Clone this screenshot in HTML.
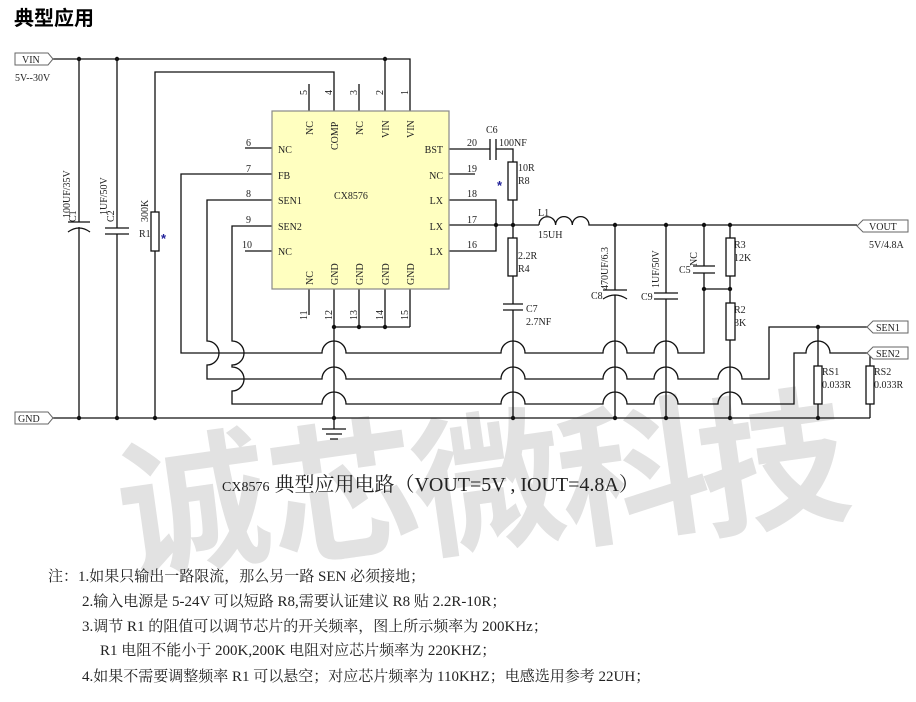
<!DOCTYPE html>
<html><head><meta charset="utf-8"><style>
html,body{margin:0;padding:0;background:#fff;}
svg{display:block;}
.t{font-family:"Liberation Serif","Noto Serif CJK SC",serif;fill:#222;}
</style></head><body>
<svg width="916" height="702" viewBox="0 0 916 702" xmlns="http://www.w3.org/2000/svg">
<!-- watermark -->
<g font-family="Liberation Sans,'Noto Sans CJK SC',sans-serif" font-weight="bold" font-size="150" fill="#e2e2e2">
<text x="115" y="560" transform="rotate(-8 190 480)">诚</text>
<text x="265" y="548" transform="rotate(-8 340 470)">芯</text>
<text x="410" y="538" transform="rotate(-8 485 460)">微</text>
<text x="555" y="528" transform="rotate(-8 630 450)">科</text>
<text x="695" y="518" transform="rotate(-8 770 440)">技</text>
</g>
<text x="14" y="25" font-family="'Noto Sans CJK SC',sans-serif" font-weight="bold" font-size="20" fill="#000">典型应用</text>

<g stroke="#111" stroke-width="1.3" fill="none">
<path d="M52 59 H410 V111"/>
<path d="M385 59 V111"/>
<path d="M155 212 V72 H334 V111"/>
<path d="M309 84 V111 M359 84 V111"/>
<path d="M52 418 H870"/>
<path d="M79 59 V222 M68 222 H90 M68 232 Q79 224 90 232 M79 227 V418"/>
<path d="M117 59 V228 M105 228 H129 M105 234 H129 M117 234 V418"/>
<path d="M155 251 V418"/>
<path d="M245 148 H272 M245 251 H272"/>
<path d="M309 289 V315 M334 289 V418 M359 289 V327 M385 289 V327 M410 289 V327 M334 327 H410"/>
<path d="M334 418 V429 M322 429 H346 M326 434 H342 M330 439 H338"/>
<path d="M272 174 H181 V353 H322 A12 12 0 0 1 346 353 H501 A12 12 0 0 1 525 353 H603 A12 12 0 0 1 627 353 H654 A12 12 0 0 1 678 353 H704 V289"/>
<path d="M272 200 H207 V341 A12 12 0 0 1 207 365 V379 H322 A12 12 0 0 1 346 379 H501 A12 12 0 0 1 525 379 H603 A12 12 0 0 1 627 379 H654 A12 12 0 0 1 678 379 H718 A12 12 0 0 1 742 379 H769 V327 H868"/>
<path d="M272 226 H232 V341 A12 12 0 0 1 232 365 V367 A12 12 0 0 1 232 391 V404 H322 A12 12 0 0 1 346 404 H501 A12 12 0 0 1 525 404 H603 A12 12 0 0 1 627 404 H654 A12 12 0 0 1 678 404 H718 A12 12 0 0 1 742 404 H794 V353 H806 A12 12 0 0 1 830 353 H868"/>
<path d="M449 149 H490 M490 139 V160 M496 139 V160 M496 149 H513 V162"/>
<path d="M449 174 H475"/>
<path d="M449 200 H496 V251 H449 M449 225 H539"/>
<path d="M513 200 V238 M513 276 V304 M503 304 H523 M503 310 H523 M513 310 V418"/>
<path d="M539 225 A8.3 8.3 0 0 1 555.6 225 A8.3 8.3 0 0 1 572.3 225 A8.3 8.3 0 0 1 589 225 H857"/>
<path d="M615 225 V290 M603 290 H627 M603 299 Q615 291 627 299 M615 295 V418"/>
<path d="M666 225 V293 M654 293 H678 M654 299 H678 M666 299 V418"/>
<path d="M704 225 V266 M693 266 H715 M693 273 H715 M704 273 V289 H730"/>
<path d="M730 225 V238 M730 276 V303 M730 340 V418"/>
<path d="M818 327 V366 M818 404 V418 M870 353 V366 M870 404 V418"/>
</g>
<g stroke="#111" stroke-width="1.3" fill="#fff">
<rect x="151" y="212" width="8" height="39"/>
<rect x="508" y="162" width="9" height="38"/>
<rect x="508" y="238" width="9" height="38"/>
<rect x="726" y="238" width="9" height="38"/>
<rect x="726" y="303" width="9" height="37"/>
<rect x="814" y="366" width="8" height="38"/>
<rect x="866" y="366" width="8" height="38"/>
</g>
<rect x="272" y="111" width="177" height="178" fill="#ffffc0" stroke="#888" stroke-width="1.2"/>
<g fill="#111">
<circle cx="79" cy="59" r="2.2"/><circle cx="117" cy="59" r="2.2"/><circle cx="385" cy="59" r="2.2"/>
<circle cx="79" cy="418" r="2.2"/><circle cx="117" cy="418" r="2.2"/><circle cx="155" cy="418" r="2.2"/>
<circle cx="334" cy="418" r="2.2"/><circle cx="513" cy="418" r="2.2"/><circle cx="615" cy="418" r="2.2"/>
<circle cx="666" cy="418" r="2.2"/><circle cx="730" cy="418" r="2.2"/><circle cx="818" cy="418" r="2.2"/>
<circle cx="334" cy="327" r="2.2"/><circle cx="359" cy="327" r="2.2"/><circle cx="385" cy="327" r="2.2"/>
<circle cx="496" cy="225" r="2.2"/><circle cx="513" cy="225" r="2.2"/>
<circle cx="615" cy="225" r="2.2"/><circle cx="666" cy="225" r="2.2"/><circle cx="704" cy="225" r="2.2"/><circle cx="730" cy="225" r="2.2"/>
<circle cx="704" cy="289" r="2.2"/><circle cx="730" cy="289" r="2.2"/>
<circle cx="818" cy="327" r="2.2"/><circle cx="870" cy="353" r="2.2"/>
</g>
<g stroke="#666" stroke-width="1" fill="#fff">
<path d="M15 53 H48 L53 59 L48 65 H15 Z"/>
<path d="M15 412 H48 L53 418 L48 424 H15 Z"/>
<path d="M908 220 H863 L857 226 L863 232 H908 Z"/>
<path d="M908 321 H873 L867 327 L873 333 H908 Z"/>
<path d="M908 347 H873 L867 353 L873 359 H908 Z"/>
</g>
<g class="t" font-size="10">
<text x="22" y="63">VIN</text>
<text x="18" y="422">GND</text>
<text x="869" y="230">VOUT</text>
<text x="876" y="331">SEN1</text>
<text x="876" y="357">SEN2</text>
<text x="15" y="81">5V--30V</text>
<text x="869" y="248">5V/4.8A</text>
<text transform="translate(307,95) rotate(-90)">5</text>
<text transform="translate(332,95) rotate(-90)">4</text>
<text transform="translate(357,95) rotate(-90)">3</text>
<text transform="translate(383,95) rotate(-90)">2</text>
<text transform="translate(408,95) rotate(-90)">1</text>
<text transform="translate(307,320) rotate(-90)">11</text>
<text transform="translate(332,320) rotate(-90)">12</text>
<text transform="translate(357,320) rotate(-90)">13</text>
<text transform="translate(383,320) rotate(-90)">14</text>
<text transform="translate(408,320) rotate(-90)">15</text>
<text transform="translate(313,135) rotate(-90)">NC</text>
<text transform="translate(338,150) rotate(-90)">COMP</text>
<text transform="translate(363,135) rotate(-90)">NC</text>
<text transform="translate(389,138) rotate(-90)">VIN</text>
<text transform="translate(414,138) rotate(-90)">VIN</text>
<text transform="translate(313,285) rotate(-90)">NC</text>
<text transform="translate(338,285) rotate(-90)">GND</text>
<text transform="translate(363,285) rotate(-90)">GND</text>
<text transform="translate(389,285) rotate(-90)">GND</text>
<text transform="translate(414,285) rotate(-90)">GND</text>
<text x="278" y="153">NC</text>
<text x="278" y="179">FB</text>
<text x="278" y="204">SEN1</text>
<text x="278" y="230">SEN2</text>
<text x="278" y="255">NC</text>
<text x="443" y="153" text-anchor="end">BST</text>
<text x="443" y="179" text-anchor="end">NC</text>
<text x="443" y="204" text-anchor="end">LX</text>
<text x="443" y="230" text-anchor="end">LX</text>
<text x="443" y="255" text-anchor="end">LX</text>
<text x="334" y="199">CX8576</text>
<text x="246" y="146">6</text><text x="246" y="172">7</text><text x="246" y="197">8</text><text x="246" y="223">9</text><text x="242" y="248">10</text>
<text x="467" y="146">20</text><text x="467" y="172">19</text><text x="467" y="197">18</text><text x="467" y="223">17</text><text x="467" y="248">16</text>
<text transform="translate(70,218) rotate(-90)">100UF/35V</text>
<text transform="translate(76,222) rotate(-90)">C1</text>
<text transform="translate(107,215) rotate(-90)">1UF/50V</text>
<text transform="translate(114,222) rotate(-90)">C2</text>
<text transform="translate(148,222) rotate(-90)">300K</text>
<text x="139" y="237">R1</text>
<text x="486" y="133">C6</text>
<text x="499" y="146">100NF</text>
<text x="518" y="171">10R</text>
<text x="518" y="184">R8</text>
<text x="538" y="216">L1</text>
<text x="538" y="238">15UH</text>
<text x="518" y="259">2.2R</text>
<text x="518" y="272">R4</text>
<text x="526" y="312">C7</text>
<text x="526" y="325">2.7NF</text>
<text transform="translate(608,290) rotate(-90)">470UF/6.3</text>
<text x="591" y="299">C8</text>
<text transform="translate(659,288) rotate(-90)">1UF/50V</text>
<text x="641" y="300">C9</text>
<text transform="translate(697,266) rotate(-90)">NC</text>
<text x="679" y="273">C5</text>
<text x="734" y="248">R3</text>
<text x="734" y="261">12K</text>
<text x="734" y="313">R2</text>
<text x="734" y="326">3K</text>
<text x="822" y="375">RS1</text>
<text x="822" y="388">0.033R</text>
<text x="874" y="375">RS2</text>
<text x="874" y="388">0.033R</text>
</g>
<g font-family="Liberation Sans,sans-serif" font-size="13" font-weight="bold" fill="#22229a">
<text x="161" y="243">*</text>
<text x="497" y="190">*</text>
</g>
<text class="t" x="222" y="491" font-size="20"><tspan font-size="14">CX8576</tspan> 典型应用电路（VOUT=5V , IOUT=4.8A）</text>
<g class="t" font-size="15">
<text x="48" y="581">注：1.如果只输出一路限流，那么另一路 SEN 必须接地；</text>
<text x="82" y="606">2.输入电源是 5-24V 可以短路 R8,需要认证建议 R8 贴 2.2R-10R；</text>
<text x="82" y="631">3.调节 R1 的阻值可以调节芯片的开关频率，图上所示频率为 200KHz；</text>
<text x="100" y="655">R1 电阻不能小于 200K,200K 电阻对应芯片频率为 220KHZ；</text>
<text x="82" y="681">4.如果不需要调整频率 R1 可以悬空；对应芯片频率为 110KHZ；电感选用参考 22UH；</text>
</g>
</svg>
</body></html>
